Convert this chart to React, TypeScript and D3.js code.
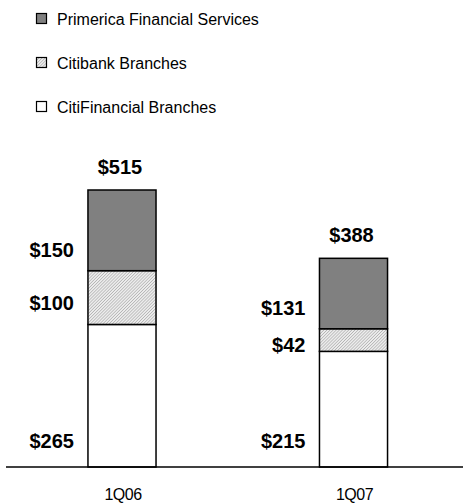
import * as d3 from 'd3';

const W = 463;
const H = 504;
const BASE_Y = 467;
const TOP_Y = 190;
const FONT = '"Liberation Sans", Arial, Helvetica, sans-serif';

const categories = ['1Q06', '1Q07'];
const seriesNames = ['CitiFinancial Branches', 'Citibank Branches', 'Primerica Financial Services'];
const citiFinancial = [265, 215];
const citibank = [100, 42];
const primerica = [150, 131];
const totals = [515, 388];
const legendOrder = [2, 1, 0];

const fills = ['#ffffff', 'url(#hatch)', '#808080'];

export default function App() {
  const x = d3.scaleBand<string>()
    .domain(categories)
    .range([6, 469.5])
    .paddingInner(0.706)
    .paddingOuter(0.354);

  const y = d3.scaleLinear()
    .domain([0, d3.max(totals) as number])
    .range([BASE_Y, TOP_Y]);

  const rows = categories.map((c, i) => ({
    cat: c,
    values: [citiFinancial[i], citibank[i], primerica[i]],
  }));
  const stack = d3.stack<any, number>()
    .keys([0, 1, 2])
    .value((d, k) => d.values[k]);
  const layers = stack(rows);

  return (
    <svg width={W} height={H} style={{ position: 'absolute', left: 0, top: 0, background: '#fff' }}>
      <defs>
        <pattern id="hatch" width={2.2} height={2.2} patternUnits="userSpaceOnUse" patternTransform="rotate(45)">
          <rect width={2.2} height={2.2} fill="#ececec" />
          <line x1={0} y1={0} x2={0} y2={2.2} stroke="#9a9a9a" strokeWidth={1} />
        </pattern>
      </defs>

      {/* legend */}
      {legendOrder.map((k, i) => {
        const by = 25 + i * 44;
        return (
          <g key={k}>
            <rect x={36.5} y={by - 11.5} width={10} height={10} fill={fills[k]} stroke="#000" strokeWidth={1.2} />
            <text x={57} y={by} fontFamily={FONT} fontSize={16} fill="#000">{seriesNames[k]}</text>
          </g>
        );
      })}

      {/* bars */}
      {layers.map((layer, k) =>
        layer.map((d, i) => {
          const bx = x(categories[i]) as number;
          return (
            <rect
              key={`${k}-${i}`}
              x={bx}
              y={y(d[1])}
              width={x.bandwidth()}
              height={y(d[0]) - y(d[1])}
              fill={fills[k]}
              stroke="#000"
              strokeWidth={1.5}
            />
          );
        })
      )}

      {/* segment labels */}
      {layers.map((layer, k) =>
        layer.map((d, i) => {
          const bx = x(categories[i]) as number;
          const top = y(d[1]);
          const bottom = y(d[0]);
          const ly = Math.max(bottom - (k === 0 ? 19 : 14), top + 23);
          return (
            <text
              key={`l-${k}-${i}`}
              x={bx - 14}
              y={ly}
              textAnchor="end"
              fontFamily={FONT}
              fontWeight="bold"
              fontSize={20}
              fill="#000"
            >
              ${rows[i].values[k]}
            </text>
          );
        })
      )}

      {/* totals */}
      {categories.map((c, i) => (
        <text
          key={`t-${c}`}
          x={(x(c) as number) + x.bandwidth() / 2 - 2}
          y={y(totals[i]) - 16}
          textAnchor="middle"
          fontFamily={FONT}
          fontWeight="bold"
          fontSize={20}
          fill="#000"
        >
          ${totals[i]}
        </text>
      ))}

      {/* axis */}
      <line x1={6} x2={W} y1={BASE_Y} y2={BASE_Y} stroke="#000" strokeWidth={1.5} />
      {categories.map(c => (
        <text
          key={`c-${c}`}
          x={(x(c) as number) + x.bandwidth() / 2 + 1}
          y={500}
          textAnchor="middle"
          fontFamily={FONT}
          fontSize={16}
          letterSpacing={-0.5}
          fill="#000"
        >
          {c}
        </text>
      ))}
    </svg>
  );
}
